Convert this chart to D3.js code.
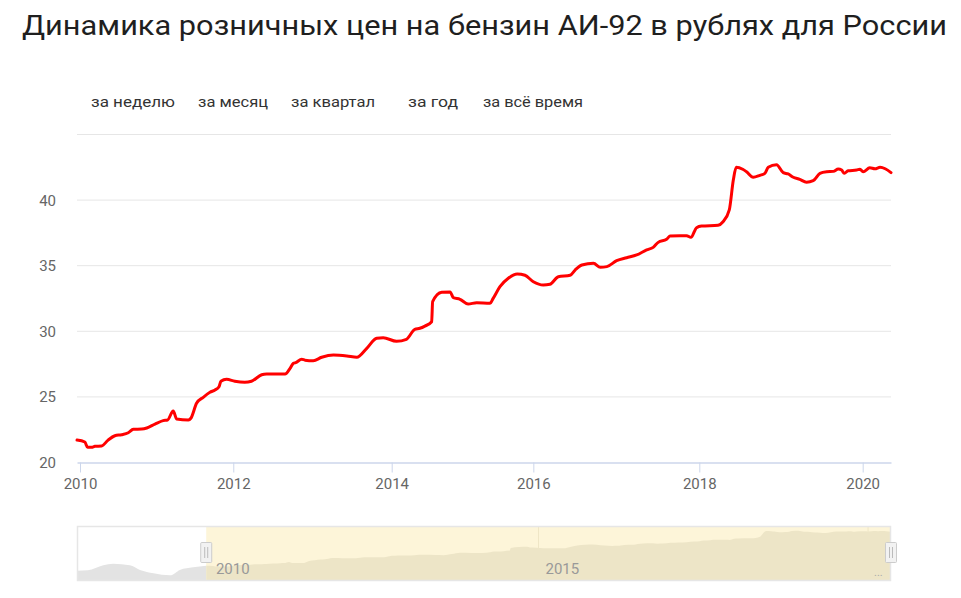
<!DOCTYPE html>
<html>
<head>
<meta charset="utf-8">
<script src="https://cdn.jsdelivr.net/npm/d3@7/dist/d3.min.js"></script>
<style>
  html, body { margin: 0; padding: 0; background: #fff; }
  svg { display: block; }
</style>
</head>
<body>
<svg id="chart" width="961" height="598"></svg>
<script>
// ---------------- DATA ----------------
const titleText = "Динамика розничных цен на бензин АИ-92 в рублях для России";
const rangeButtons = ["за неделю", "за месяц", "за квартал", "за год", "за всё время"];

const mainDates = [
  "2009-12-17","2010-01-24","2010-02-06","2010-02-25","2010-03-13","2010-04-14","2010-05-15","2010-06-16",
  "2010-07-18","2010-08-19","2010-09-12","2010-10-22","2010-11-15","2010-12-24","2011-02-01","2011-02-22",
  "2011-03-21","2011-04-06","2011-06-01","2011-06-13","2011-07-10","2011-08-11","2011-09-12","2011-10-06",
  "2011-10-25","2011-11-03","2011-11-30","2012-01-08","2012-02-23","2012-03-25","2012-05-11","2012-06-03",
  "2012-08-27","2012-09-19","2012-10-04","2012-10-15","2012-11-12","2012-11-27","2013-01-04","2013-02-12",
  "2013-04-07","2013-06-08","2013-07-24","2013-09-08","2013-10-24","2013-11-23","2014-01-26","2014-03-18",
  "2014-04-30","2014-05-26","2014-06-21","2014-07-26","2014-07-31","2014-09-16","2014-10-29","2014-11-15",
  "2014-12-19","2015-01-30","2015-03-15","2015-05-22","2015-06-08","2015-07-13","2015-08-25","2015-10-10",
  "2015-11-19","2016-01-01","2016-02-14","2016-03-14","2016-04-20","2016-06-11","2016-07-03","2016-08-02",
  "2016-09-22","2016-10-22","2016-11-20","2017-01-02","2017-02-15","2017-03-31","2017-05-14","2017-06-12",
  "2017-07-04","2017-08-10","2017-08-25","2017-10-08","2017-11-06","2017-11-25","2017-12-20","2018-01-11",
  "2018-03-26","2018-04-17","2018-05-15","2018-06-02","2018-06-15","2018-07-14","2018-07-31","2018-08-30",
  "2018-09-29","2018-10-21","2018-11-05","2018-12-12","2019-01-11","2019-02-02","2019-02-25","2019-03-26",
  "2019-04-25","2019-05-25","2019-06-24","2019-07-24","2019-08-23","2019-09-14","2019-09-29","2019-10-11",
  "2019-10-28","2019-12-05","2019-12-20","2020-01-03","2020-02-02","2020-02-25","2020-03-19","2020-04-11",
  "2020-05-07"
];
const mainValues = [
  21.71,21.56,21.16,21.16,21.23,21.26,21.71,22.04,
  22.12,22.27,22.53,22.55,22.63,22.93,23.19,23.24,
  23.93,23.32,23.24,23.37,24.51,24.97,25.35,25.53,
  25.78,26.19,26.34,26.19,26.11,26.19,26.69,26.75,
  26.75,27.18,27.56,27.61,27.87,27.80,27.76,28.02,
  28.19,28.12,28.02,28.70,29.47,29.51,29.24,29.39,
  30.15,30.23,30.40,30.73,32.26,32.97,33.00,32.56,
  32.44,32.08,32.18,32.13,32.51,33.40,34.04,34.37,
  34.27,33.78,33.53,33.58,34.16,34.27,34.67,35.05,
  35.18,34.88,34.93,35.38,35.61,35.82,36.20,36.40,
  36.78,37.01,37.26,37.29,37.29,37.16,37.90,38.02,
  38.08,38.35,39.25,41.53,42.50,42.35,42.16,41.74,
  41.89,42.04,42.50,42.70,42.09,41.99,41.74,41.58,
  41.36,41.48,42.04,42.16,42.19,42.37,42.29,42.04,
  42.24,42.29,42.35,42.16,42.46,42.39,42.50,42.39,
  42.09
];

// navigator series before the selected range
const navPreDates = ["2008-01-01","2008-03-01","2008-05-26","2008-07-20","2008-10-20","2008-12-15","2009-02-28","2009-05-31","2009-07-24","2009-10-05"];
const navPreValues = [18.7, 18.9, 21.9, 22.9, 21.9, 19.1, 17.1, 15.9, 19.1, 20.7];

const yTicks = [20, 25, 30, 35, 40];
const yGrid = [25, 30, 35, 40, 45];
const xTickYears = [2010, 2012, 2014, 2016, 2018, 2020];
const navLabelYears = [2010, 2015];
const navGridYears = [2015, 2020];

// ---------------- LAYOUT ----------------
const W = 961, H = 598;
const plot = { left: 77, right: 891, top: 134.5, bottom: 462.5 };
const pw = plot.right - plot.left;
// Highstock ordinal axis: relative positions of the year ticks along the plot width
const tickFrac = [0.0037, 0.192, 0.3866, 0.5606, 0.7645, 0.9652];
const nav = { left: 77, right: 891, top: 526, bottom: 580 };

const parse = d3.timeParse("%Y-%m-%d");
const main = mainDates.map((d, i) => ({ date: parse(d), value: mainValues[i] }));
const navPre = navPreDates.map((d, i) => ({ date: parse(d), value: navPreValues[i] }));
const yearDate = y => new Date(y, 0, 1);

const svg = d3.select("#chart");
const FONT = "Roboto, 'Open Sans', 'DejaVu Sans', sans-serif";

// ---------------- TITLE ----------------
svg.append("text")
  .attr("x", 22).attr("y", 35)
  .attr("font-family", FONT)
  .attr("font-size", 28)
  .attr("fill", "#1f1f1f")
  .attr("textLength", 925)
  .attr("lengthAdjust", "spacingAndGlyphs")
  .text(titleText);

// ---------------- RANGE BUTTONS ----------------
const btnX = [91, 198, 291, 408, 483];
const btnW = [84, 70, 84, 50, 100];
svg.append("g").selectAll("text").data(rangeButtons).join("text")
  .attr("x", (d, i) => btnX[i]).attr("y", 107)
  .attr("font-family", FONT).attr("font-size", 15)
  .attr("fill", "#333")
  .attr("textLength", (d, i) => btnW[i])
  .attr("lengthAdjust", "spacingAndGlyphs")
  .text(d => d);

// ---------------- SCALES ----------------
const xDomain = [main[0].date, ...xTickYears.map(yearDate), main[main.length - 1].date];
const xRange = [plot.left, ...tickFrac.map(f => plot.left + f * pw), plot.right];
const x = d3.scaleTime().domain(xDomain).range(xRange);
const y = d3.scaleLinear().domain([20, 45]).range([plot.bottom, plot.top]);

// grid
svg.append("g").selectAll("line").data(yGrid).join("line")
  .attr("x1", plot.left).attr("x2", plot.right)
  .attr("y1", d => y(d)).attr("y2", d => y(d))
  .attr("stroke", "#e6e6e6").attr("stroke-width", 1);

// y labels
svg.append("g").selectAll("text").data(yTicks).join("text")
  .attr("x", 56).attr("y", d => y(d) + 5.5)
  .attr("text-anchor", "end")
  .attr("font-family", FONT).attr("font-size", 15)
  .attr("fill", "#666")
  .text(d => d);

// x axis
const xAxis = d3.axisBottom(x)
  .tickValues(xTickYears.map(yearDate))
  .tickFormat(d3.timeFormat("%Y"))
  .tickSize(10).tickSizeOuter(0).tickPadding(6);
const gx = svg.append("g").attr("transform", `translate(0,${plot.bottom})`).call(xAxis);
gx.select(".domain").attr("stroke", "#ccd6eb").attr("stroke-width", 1.5);
gx.selectAll(".tick line").attr("stroke", "#ccd6eb");
gx.selectAll(".tick text").attr("font-family", FONT).attr("font-size", 15).attr("fill", "#666");

// line
const line = d3.line().x(d => x(d.date)).y(d => y(d.value)).curve(d3.curveMonotoneX);
svg.append("path").datum(main)
  .attr("d", line)
  .attr("fill", "none")
  .attr("stroke", "#ff0000")
  .attr("stroke-width", 3)
  .attr("stroke-linejoin", "round")
  .attr("stroke-linecap", "round");

// ---------------- NAVIGATOR ----------------
const xn = d3.scaleTime()
  .domain([navPre[0].date, main[main.length - 1].date])
  .range([nav.left, nav.right]);
const yn = d3.scaleLinear().domain([13.1, 45.5]).range([nav.bottom, nav.top]);
const selStart = xn(main[0].date);

// selected background
svg.append("rect")
  .attr("x", selStart).attr("y", nav.top)
  .attr("width", nav.right - selStart).attr("height", nav.bottom - nav.top)
  .attr("fill", "#fdf5d9");

// nav grid lines
svg.append("g").selectAll("line").data(navGridYears).join("line")
  .attr("x1", d => xn(yearDate(d))).attr("x2", d => xn(yearDate(d)))
  .attr("y1", nav.top).attr("y2", nav.bottom)
  .attr("stroke", "#efe6c6").attr("stroke-width", 1);

const navArea = d3.area().x(d => xn(d.date)).y0(nav.bottom).y1(d => yn(d.value)).curve(d3.curveMonotoneX);
svg.append("path").datum([...navPre, main[0]])
  .attr("d", navArea).attr("fill", "#e3e3e3");
svg.append("path").datum(main)
  .attr("d", navArea).attr("fill", "#ede5c7");

// nav outline
svg.append("rect")
  .attr("x", nav.left + 0.5).attr("y", nav.top + 0.5)
  .attr("width", nav.right - nav.left - 1).attr("height", nav.bottom - nav.top)
  .attr("fill", "none").attr("stroke", "#e6e6e6").attr("stroke-width", 1.5);

// nav labels
svg.append("g").selectAll("text").data(navLabelYears).join("text")
  .attr("x", d => xn(yearDate(d)) + 7).attr("y", 574)
  .attr("font-family", FONT).attr("font-size", 15)
  .attr("fill", "#999")
  .text(d => d);
svg.append("text")
  .attr("x", xn(yearDate(2020)) + 6).attr("y", 576)
  .attr("font-family", FONT).attr("font-size", 11)
  .attr("fill", "#aaa")
  .text("...");

// handles
[selStart, nav.right].forEach(cx => {
  const g = svg.append("g");
  g.append("rect")
    .attr("x", cx - 5.5).attr("y", 542.5)
    .attr("width", 11).attr("height", 20)
    .attr("rx", 1)
    .attr("fill", "#f2f2f2").attr("stroke", "#ccc");
  [-1.5, 1.5].forEach(o => {
    g.append("line")
      .attr("x1", cx + o).attr("x2", cx + o)
      .attr("y1", 547).attr("y2", 558)
      .attr("stroke", "#bbb");
  });
});
</script>
</body>
</html>
